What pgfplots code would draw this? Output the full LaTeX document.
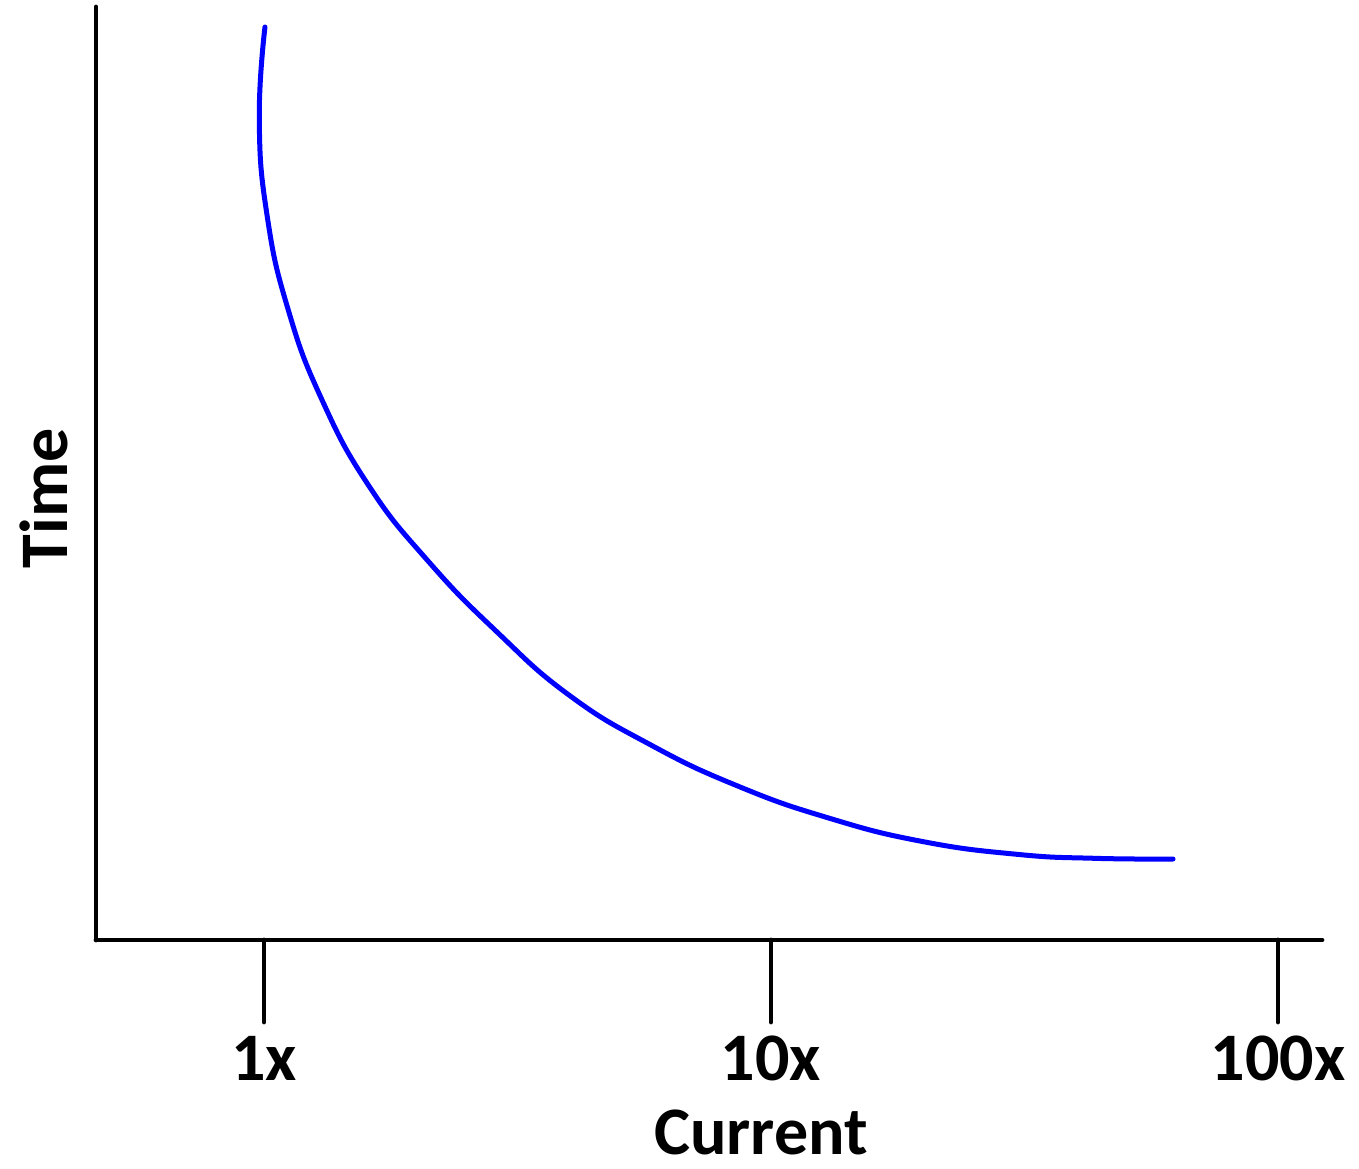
\documentclass[border=0pt]{standalone}
\usepackage{fontspec}
\setmainfont{Carlito}
\usepackage{pgfplots}
\pgfplotsset{compat=1.18}

\newcommand{\lblfont}{\fontsize{17}{20}\selectfont\bfseries}

\begin{document}
\begin{tikzpicture}
\begin{axis}[
  scale only axis,
  width=306.5pt, height=233.25pt,
  xmode=log,
  xmin=0.4663, xmax=122.1,
  ymin=0, ymax=933,
  axis x line=bottom, axis y line=left,
  axis line style={-, line width=1.2pt, line cap=round},
  xtick={1,10,100},
  xticklabels={1x,10x,100x},
  xminorticks=false,
  ytick=\empty,
  tick align=outside,
  major tick length=20.5pt,
  tick style={line width=1.2pt, black, line cap=round},
  tick label style={font=\lblfont},
  xlabel={Current}, ylabel={Time},
  label style={font=\lblfont},
  xlabel style={at={(axis description cs:0.5424,-0.2304)}, anchor=base},
  ylabel style={at={(axis description cs:-0.0424,0.4737)}, anchor=center, rotate=0},
  clip=false,
]
% time vs current (arbitrary units)
\addplot[blue, line width=1.25pt, line cap=round, smooth, tension=0.8] coordinates {
  (1.0045,913) (0.9789,820) (1.0146,724) (1.1152,631) (1.2990,541)
  (1.6110,454) (2.1109,378.5) (2.8681,309) (3.9955,245) (5.7720,195.5)
  (8.5691,154.3) (12.955,122.2) (19.808,98.7) (30.564,85.7) (43.556,81.7)
  (62.07,81)
};
\path (axis description cs:-0.0783,-0.2390) rectangle (axis description cs:1.0302,1.0075);
\end{axis}
\end{tikzpicture}
\end{document}
